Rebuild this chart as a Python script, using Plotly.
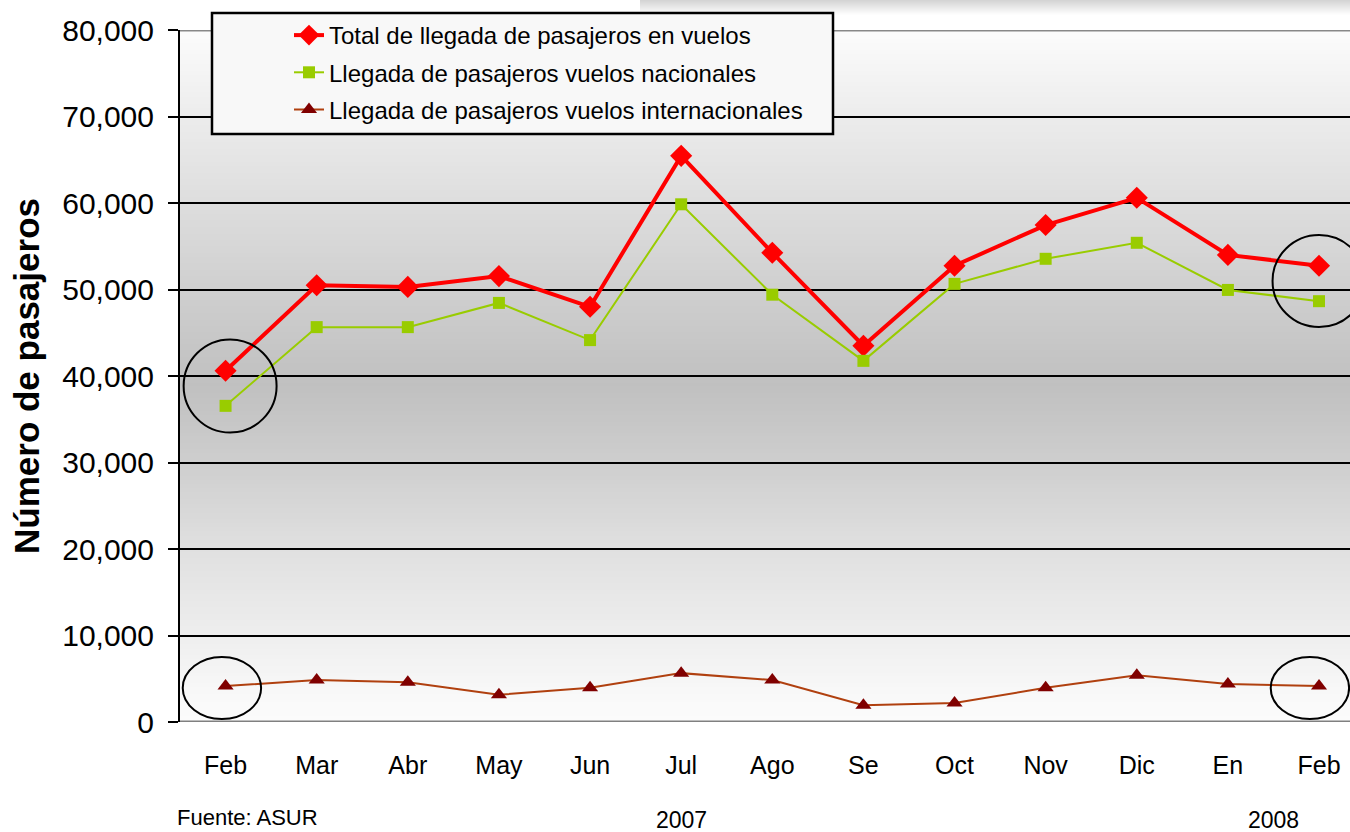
import plotly.graph_objects as go
import numpy as np

months = ["Feb", "Mar", "Abr", "May", "Jun", "Jul", "Ago", "Se", "Oct", "Nov", "Dic", "En", "Feb"]
total = [40600, 50500, 50300, 51550, 48000, 65450, 54250, 43500, 52750, 57450, 60600, 54000, 52750]
nacional = [36550, 45650, 45650, 48450, 44150, 59850, 49400, 41750, 50650, 53550, 55400, 49950, 48650]
internacional = [4150, 4850, 4600, 3150, 3950, 5650, 4850, 1950, 2200, 3950, 5400, 4400, 4150]
y_ticks = [0, 10000, 20000, 30000, 40000, 50000, 60000, 70000, 80000]
y_labels = ["0", "10,000", "20,000", "30,000", "40,000", "50,000", "60,000", "70,000", "80,000"]
names = ["Total de llegada de pasajeros en vuelos",
         "Llegada de pasajeros vuelos nacionales",
         "Llegada de pasajeros vuelos internacionales"]
years = ["2007", "2008"]

FONT = "Liberation Sans, Arial, sans-serif"
x = list(range(len(months)))

fig = go.Figure()
fig.add_trace(go.Scatter(x=x, y=total, name=names[0], mode="lines+markers", legendgroup="a",
                         line=dict(color="#ff0000", width=4),
                         marker=dict(symbol="diamond", size=17, color="#ff0000")))
fig.add_trace(go.Scatter(x=x, y=nacional, name=names[1], mode="lines+markers", legendgroup="b",
                         line=dict(color="#99cc00", width=2),
                         marker=dict(symbol="square", size=12, color="#99cc00")))
fig.add_trace(go.Scatter(x=x, y=internacional, name=names[2], mode="lines+markers", legendgroup="c",
                         line=dict(color="#b0400f", width=2),
                         marker=dict(symbol="triangle-up", size=14, color="#800000")))

shapes = []
# gradient background of plot area
stops_y = [0, 3000, 10000, 20000, 30000, 39000, 49000, 59000, 70000, 80000]
stops_c = [251, 249, 238, 224, 206, 192, 206, 220, 236, 252]
step = 250
for y0 in range(0, 80000, step):
    c = int(round(np.interp(y0 + step / 2, stops_y, stops_c)))
    shapes.append(dict(type="rect", xref="paper", yref="y", x0=0, x1=1, y0=y0, y1=min(y0 + step * 1.8, 80000),
                       fillcolor=f"rgb({c},{c},{c})", line=dict(width=0), layer="below"))
# soft top shadow on page
for i in range(14):
    c = int(212 + i * 3.0)
    shapes.append(dict(type="rect", xref="paper", yref="paper",
                       x0=(640 - 180) / 1170, x1=1.0,
                       y0=(722 - i - 1.6) / 692, y1=(722 - i) / 692,
                       fillcolor=f"rgb({c},{c},{c})", line=dict(width=0), layer="below"))
# top border (gray) and zero line
shapes.append(dict(type="line", xref="paper", yref="y", x0=0, x1=1, y0=80000, y1=80000,
                   line=dict(color="#888888", width=3), layer="above"))
shapes.append(dict(type="line", xref="paper", yref="y", x0=0, x1=1, y0=0, y1=0,
                   line=dict(color="#808080", width=3), layer="above"))
# legend box
shapes.append(dict(type="rect", xref="paper", yref="paper",
                   x0=(212 - 180) / 1170, x1=(833 - 180) / 1170,
                   y0=(722 - 134) / 692, y1=(722 - 13) / 692,
                   fillcolor="rgb(248,248,248)", line=dict(color="black", width=2.5), layer="above"))
# highlight ellipses
ell = [(0.05, 38850, 0.51, 5380), (12.0, 50980, 0.51, 5320),
       (-0.04, 3930, 0.43, 3590), (11.9, 3930, 0.43, 3590)]
for cx, cy, rx, ry in ell:
    shapes.append(dict(type="circle", xref="x", yref="y", x0=cx - rx, x1=cx + rx, y0=cy - ry, y1=cy + ry,
                       line=dict(color="black", width=2), layer="above"))

annotations = [
    dict(text=years[0], x=5.0, y=(722 - 820) / 692, xref="x", yref="paper", showarrow=False,
         font=dict(size=23, color="black", family=FONT), yanchor="middle"),
    dict(text=years[1], x=11.5, y=(722 - 820) / 692, xref="x", yref="paper", showarrow=False,
         font=dict(size=23, color="black", family=FONT), yanchor="middle"),
    dict(text="Fuente: ASUR", x=(175 - 180) / 1170, y=(722 - 832) / 692, xref="paper", yref="paper",
         showarrow=False, xanchor="left", yanchor="bottom",
         font=dict(size=22, color="black", family=FONT)),
]

fig.update_layout(
    width=1350, height=832,
    margin=dict(l=180, r=0, t=30, b=110),
    paper_bgcolor="white", plot_bgcolor="rgba(0,0,0,0)",
    font=dict(family=FONT, color="black"),
    showlegend=True,
    legend=dict(x=(289 - 180) / 1170, y=(722 - 13) / 692, xanchor="left", yanchor="top",
                bgcolor="rgba(0,0,0,0)", borderwidth=0, tracegroupgap=3,
                font=dict(size=24, family=FONT, color="black")),
    shapes=shapes,
    annotations=annotations,
    xaxis=dict(range=[-0.5, 12.34], tickmode="array", tickvals=x, ticktext=months,
               showgrid=False, zeroline=False, showline=False, ticks="",
               ticklabelstandoff=26, tickfont=dict(size=25, family=FONT, color="black")),
    yaxis=dict(range=[0, 80000], tickmode="array", tickvals=y_ticks, ticktext=y_labels,
               showgrid=True, gridcolor="black", gridwidth=1.6, zeroline=False,
               showline=True, linecolor="black", linewidth=2,
               ticks="outside", ticklen=10, tickwidth=2, tickcolor="black",
               ticklabelstandoff=8, tickfont=dict(size=30, family=FONT, color="black"),
               title=dict(text="<b>Número de pasajeros</b>", standoff=12,
                          font=dict(size=35, family=FONT, color="black"))),
)

fig.write_html("out.html", config={"displayModeBar": False},
               post_script="document.body.style.margin='0';document.body.style.overflow='hidden';")
